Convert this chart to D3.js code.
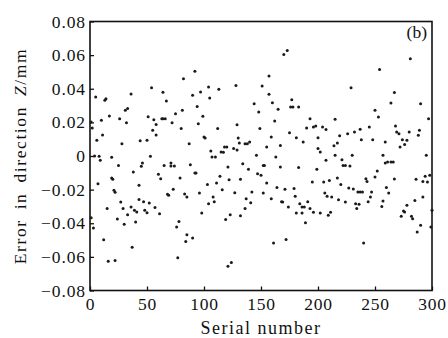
<!DOCTYPE html>
<html>
<head>
<meta charset="utf-8">
<script src="https://cdn.jsdelivr.net/npm/d3@7"></script>
<style>
  body { margin: 0; background: #fff; }
</style>
</head>
<body>
<div id="plot-container"></div>
<script>
// serial number of each sample
const serial = [1,2,1,3,5,4,6,7,8,9,10,11,12,13,14,15,16,17,19,19,20,21,22,22,24,25,26,27,28,29,
  30,31,33,32,33,36,36,37,38,39,40,41,43,43,44,45,46,47,48,50,50,51,52,53,54,55,56,57,58,58,
  60,61,62,63,64,66,64,65,67,68,69,71,72,71,73,74,75,76,77,78,79,80,81,82,83,84,85,85,87,88,
  90,90,92,92,93,94,95,96,97,98,99,100,101,103,104,104,105,106,107,108,109,110,111,112,113,114,115,116,117,118,
  119,120,121,121,122,123,124,126,127,128,129,129,130,131,132,132,134,136,136,137,138,140,139,141,142,144,146,148,147,149,
  150,151,152,153,152,155,155,157,157,159,159,160,161,162,163,164,165,167,167,168,169,170,171,172,173,174,175,176,177,178,
  179,180,181,181,183,183,184,186,186,187,188,189,190,191,193,193,195,196,196,198,199,200,200,202,202,204,205,206,207,207,
  208,209,210,211,212,214,215,215,217,217,218,219,220,221,222,224,224,226,227,228,229,230,231,232,233,234,235,236,237,237,
  238,239,240,242,243,244,245,246,247,248,250,250,252,253,254,256,257,257,259,259,260,261,262,264,264,266,267,267,268,269,
  271,272,273,274,275,276,276,278,278,280,281,282,283,285,286,287,288,289,290,290,292,292,294,295,296,297,298,299,300];

// error in direction Z, mm
const errorZ = [0.0202,0.0167,-0.0367,-0.0428,0.0351,0,0.0093,-0.0165,-0.0002,-0.0026,0.0212,0.0125,-0.0498,0.0331,0.0341,-0.0313,-0.0626,0.0238,-0.0008,-0.0131,
  -0.0139,-0.0204,-0.0216,-0.0621,-0.0375,-0.0056,0.0222,-0.0274,0.0073,-0.0313,-0.0406,0.0272,0.0282,0.0198,-0.0349,0.0369,-0.0303,-0.0543,-0.0095,-0.0323,
  -0.0393,-0.0333,-0.0174,-0.0258,0.0091,-0.0061,-0.0042,-0.0272,-0.0323,-0.0337,0.0093,0.0234,-0.0280,-0.0002,0.0406,0.0153,0.0216,-0.0307,0.0125,0.0188,
  -0.0109,-0.0343,-0.0135,0.0222,0.0222,0.0222,0.0379,-0.0056,0.0327,-0.0228,-0.0234,-0.0042,0.0198,-0.0059,-0.0198,-0.0059,0.0252,-0.0422,-0.0605,-0.0389,
  -0.0131,0.0163,0.0272,0.0460,-0.0226,-0.0508,-0.0244,-0.0468,0.0073,-0.0052,-0.0488,0.0361,0.0504,-0.0101,-0.0101,0.0295,0.0192,-0.0220,0.0381,-0.0339,
  0.0236,0.0113,0.0107,-0.0170,-0.0284,0.0410,0.0345,0.0030,-0.0006,-0.0244,-0.0272,-0.0006,-0.0161,0.0163,0.0397,-0.0121,0.0024,-0.0200,0.0022,0.0054,
  -0.0377,0.0054,-0.0065,-0.0656,-0.0141,-0.0349,-0.0634,0.0044,-0.0218,0.0420,0.0186,0.0036,0.0107,0.0077,-0.0139,-0.0355,-0.0046,0.0073,-0.0313,-0.0254,
  0.0073,0.0083,-0.0079,-0.0278,-0.0214,0.0311,0.0004,0.0262,-0.0105,0.0163,-0.0115,0.0416,-0.0056,-0.0056,-0.0220,-0.0161,0.0054,0.0476,0.0367,0.0113,
  -0.0254,0.0317,-0.0517,0.0208,-0.0006,-0.0188,0.0278,-0.0065,0.0063,-0.0272,-0.0274,0.0603,-0.0198,-0.0496,0.0628,-0.0303,0.0139,0.0291,0.0335,0.0291,
  -0.0194,-0.0240,0.0109,-0.0339,0.0291,-0.0069,-0.0284,-0.0303,-0.0339,0.0083,-0.0303,-0.0397,0.0167,-0.0272,0.0222,-0.0313,-0.0155,0.0172,-0.0335,0.0178,
  -0.0079,0.0109,0.0044,-0.0339,0.0024,0.0172,-0.0155,-0.0220,-0.0026,0.0157,-0.0240,-0.0353,-0.0145,-0.0335,-0.0244,0.0061,0.0004,0.0218,-0.0131,0.0077,
  -0.0260,0.0121,-0.0170,-0.0022,-0.0056,-0.0056,-0.0274,0.0133,-0.0190,-0.0059,0.0406,0.0004,-0.0196,0.0143,-0.0284,-0.0313,-0.0214,-0.0287,-0.0214,0.0159,
  0.0097,-0.0214,-0.0517,-0.0135,-0.0151,-0.0272,0.0172,-0.0244,-0.0214,0.0097,-0.0125,0.0272,-0.0089,0.0232,0.0515,-0.0301,-0.0268,0.0004,-0.0042,0.0083,
  -0.0188,-0.0036,-0.0220,-0.0036,0.0315,-0.0036,0.0377,-0.0137,0.0178,0.0143,0.0133,0.0054,-0.0359,0.0097,-0.0327,-0.0333,0.0069,-0.0293,0.0093,0.0143,
  0.0579,-0.0359,-0.0373,-0.0264,-0.0139,-0.0452,0.0123,0.0153,0.0311,-0.0412,-0.0244,-0.0151,-0.0121,0.0004,-0.0155,0.0222,-0.0115,-0.0422,-0.0323];

const xTicks = [0, 50, 100, 150, 200, 250, 300];
const yTicks = [-0.08, -0.06, -0.04, -0.02, 0, 0.02, 0.04, 0.06, 0.08];

const width = 448;
const height = 338;
const margin = { left: 90, right: 16, top: 21.5, bottom: 47.5 };
const serif = "'Liberation Serif'";

const svg = d3.select('#plot-container')
  .append('svg')
  .attr('width', width)
  .attr('height', height);

const xScale = d3.scaleLinear().domain([0, 300]).range([margin.left, width - margin.right]);
const yScale = d3.scaleLinear().domain([-0.08, 0.08]).range([height - margin.bottom, margin.top]);

const fmt = v => v === 0 ? '0' : d3.format('.2f')(v).replace('-', '\u2212');

// x axis, ticks pointing into the plot
const xAxis = svg.append('g')
  .attr('transform', `translate(0, ${height - margin.bottom})`)
  .call(d3.axisBottom(xScale).tickValues(xTicks).tickSizeInner(-4).tickSizeOuter(0).tickPadding(7).tickFormat(d3.format('d')));
xAxis.attr('font-family', null).attr('font-size', null);
xAxis.select('.domain').remove();
xAxis.selectAll('line').attr('stroke', '#111').attr('stroke-width', 1.3);
xAxis.selectAll('text').style('font-family', serif).style('font-size', '17.5px').attr('fill', '#111')
  .attr('letter-spacing', 0.8);

// y axis
const yAxis = svg.append('g')
  .attr('transform', `translate(${margin.left}, 0)`)
  .call(d3.axisLeft(yScale).tickValues(yTicks).tickSizeInner(-4).tickSizeOuter(0).tickPadding(4).tickFormat(fmt));
yAxis.attr('font-family', null).attr('font-size', null);
yAxis.select('.domain').remove();
yAxis.selectAll('line').attr('stroke', '#111').attr('stroke-width', 1.3);
yAxis.selectAll('text').style('font-family', serif).style('font-size', '17.5px').attr('fill', '#111')
  .attr('letter-spacing', 0.9);

// frame
svg.append('rect')
  .attr('x', xScale(0)).attr('y', yScale(0.08))
  .attr('width', xScale(300) - xScale(0))
  .attr('height', yScale(-0.08) - yScale(0.08))
  .attr('fill', 'none')
  .attr('stroke', '#111')
  .attr('stroke-width', 1.6);

// points
svg.append('g')
  .selectAll('circle')
  .data(serial)
  .enter()
  .append('circle')
  .attr('cx', (d) => xScale(d))
  .attr('cy', (d, i) => yScale(errorZ[i]))
  .attr('r', 1.5)
  .attr('fill', '#1a1a1a');

// labels
svg.append('text')
  .attr('x', (xScale(0) + xScale(300)) / 2)
  .attr('y', 334)
  .attr('text-anchor', 'middle')
  .attr('fill', '#111')
  .style('font-family', serif)
  .style('font-size', '18px')
  .attr('letter-spacing', 1.5)
  .text('Serial number');

const yLabel = svg.append('text')
  .attr('transform', `translate(25.5, ${(yScale(0.08) + yScale(-0.08)) / 2}) rotate(-90)`)
  .attr('text-anchor', 'middle')
  .attr('fill', '#111')
  .style('font-family', serif)
  .style('font-size', '17.5px')
  .attr('letter-spacing', 1.6)
  .attr('word-spacing', 4);
yLabel.append('tspan').text('Error in direction ');
yLabel.append('tspan').style('font-style', 'italic').text('Z');
yLabel.append('tspan').text('/mm');

svg.append('text')
  .attr('x', 427)
  .attr('y', 38)
  .attr('text-anchor', 'end')
  .attr('fill', '#111')
  .style('font-family', serif)
  .style('font-size', '17.5px')
  .text('(b)');
</script>
</body>
</html>
